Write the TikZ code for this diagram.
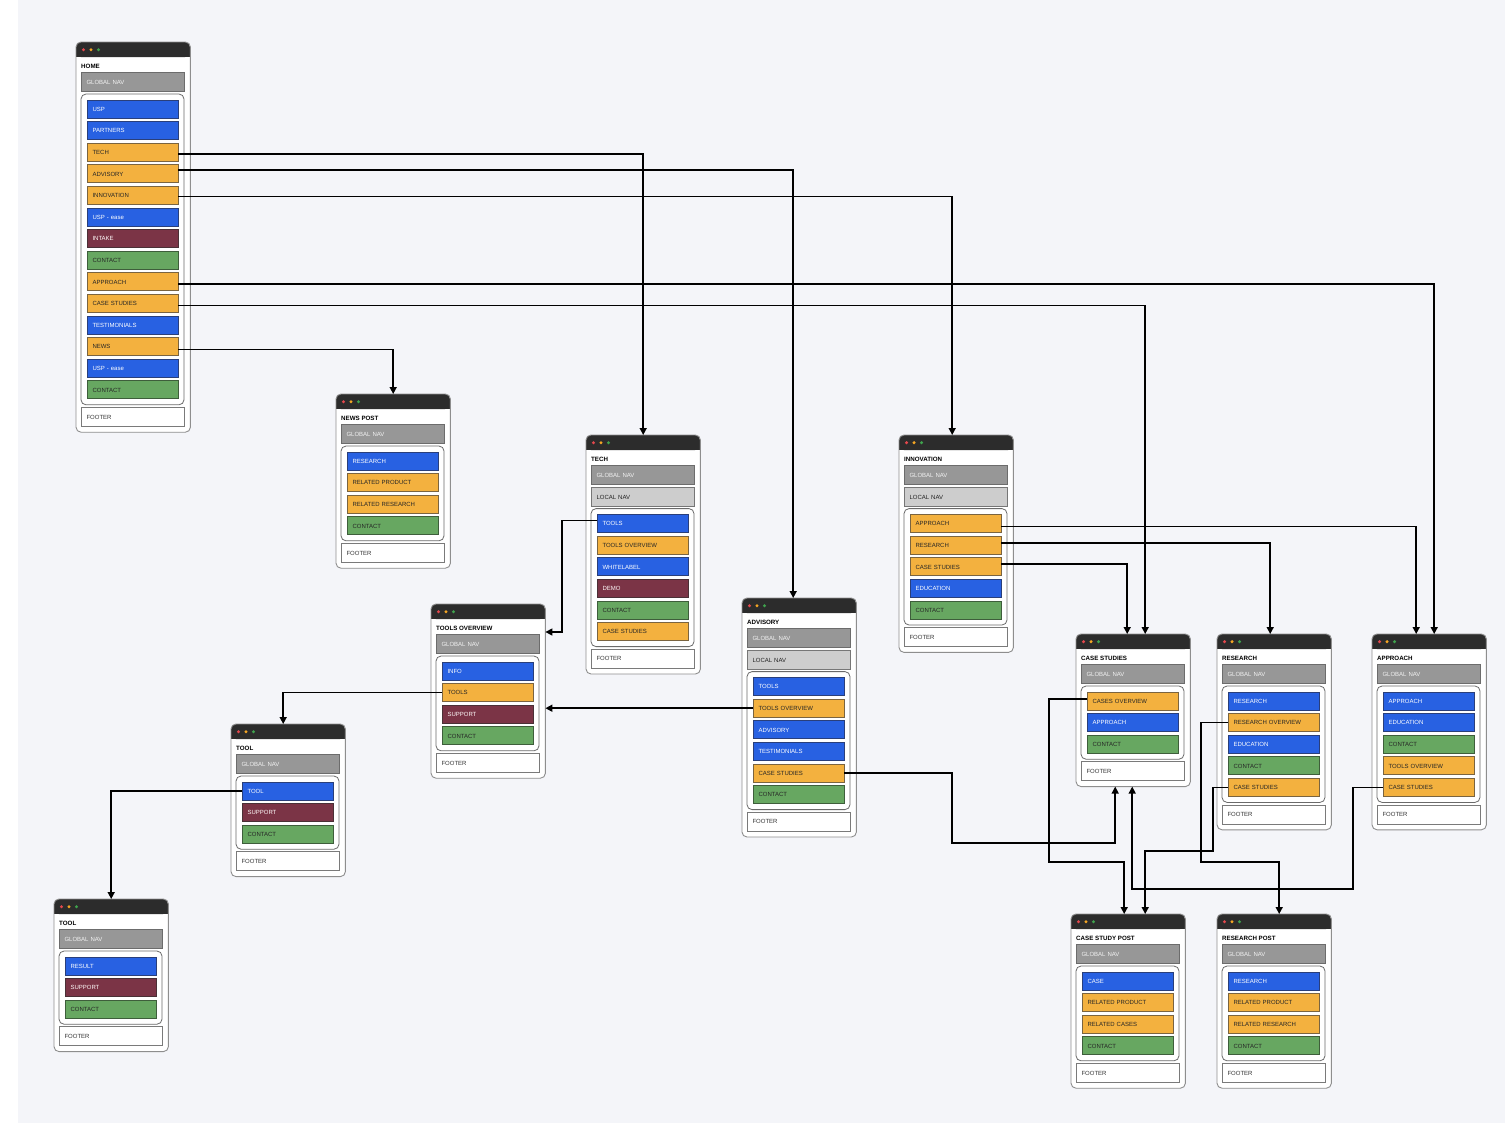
\documentclass[tikz,border=0pt]{standalone}
\usepackage{fontspec}
\setmainfont{Liberation Sans}
\usetikzlibrary{arrows.meta,calc}
\definecolor{bgc}{HTML}{F4F5F9}
\definecolor{hdrc}{HTML}{2C2C2C}
\definecolor{winb}{HTML}{8E8E8E}
\definecolor{contb}{HTML}{6A6A6A}
\definecolor{navc}{HTML}{979797}
\definecolor{navb}{HTML}{6C6C6C}
\definecolor{navt}{HTML}{F2F2F2}
\definecolor{lnavc}{HTML}{CDCDCD}
\definecolor{lnavb}{HTML}{767676}
\definecolor{lnavt}{HTML}{222222}
\definecolor{footb}{HTML}{7A7A7A}
\definecolor{foott}{HTML}{333333}
\definecolor{cblue}{HTML}{2861E2}
\definecolor{cblueb}{HTML}{2A3F7A}
\definecolor{corange}{HTML}{F3B13F}
\definecolor{corangeb}{HTML}{7A6440}
\definecolor{cmaroon}{HTML}{7B3446}
\definecolor{cmaroonb}{HTML}{4A3036}
\definecolor{cgreen}{HTML}{67A761}
\definecolor{cgreenb}{HTML}{3E5E3B}
\definecolor{dred}{HTML}{E5484D}
\definecolor{dyel}{HTML}{F5A623}
\definecolor{dgrn}{HTML}{3FA34D}
\tikzset{
  box/.style={draw, line width=0.7pt, inner xsep=5.5pt, inner ysep=0pt,
    text height=4.4pt, text depth=0pt, align=left,
    font=\fontsize{6}{7}\selectfont},
  gnav/.style={box, fill=navc, draw=navb, text=navt, text width=92pt, minimum height=19pt},
  lnav/.style={box, fill=lnavc, draw=lnavb, text=lnavt, text width=92pt, minimum height=19pt},
  foot/.style={box, fill=white, draw=footb, text=foott, text width=92pt, minimum height=19pt},
  item/.style={box, text width=80pt, minimum height=18pt},
  ib/.style={item, fill=cblue, draw=cblueb, text=white},
  io/.style={item, fill=corange, draw=corangeb, text=black!85},
  im/.style={item, fill=cmaroon, draw=cmaroonb, text=white!92!pink},
  ig/.style={item, fill=cgreen, draw=cgreenb, text=black!85},
  ttl/.style={font=\fontsize{6.2}{7}\selectfont\bfseries, anchor=west, inner sep=0pt},
  winnode/.style={fill=white, inner sep=0pt, anchor=north west, rounded corners=5pt},
  conn/.style={draw=black, line width=1.5pt, -{Triangle[length=7pt,width=7pt]}},
}
% #1 id, #2 x, #3 top y, #4 title, #5 local nav (0/1), #6 items
\newcommand\sitepage[6]{%
  \def\pid{#1}\def\px{#2}\def\py{#3}%
  \pgfmathsetmacro\loff{#5*21.6}%
  \foreach \s/\t [count=\i] in {#6} {\xdef\nitems{\i}}%
  \pgfmathsetmacro\lastc{\py+67+\loff+(\nitems-1)*21.6}%
  \pgfmathsetmacro\cb{\lastc+15}%
  \pgfmathsetmacro\fc{\cb+12}%
  \pgfmathsetmacro\wb{\fc+15}%
  \pgfmathsetmacro\wh{\wb-\py}%
  \node[winnode, minimum width=114pt, minimum height=\wh pt] (#1) at (\px,\py) {};
  \fill[hdrc, rounded corners=5pt] (\px,\py) rectangle (\px+114,\py+15);
  \fill[hdrc] (\px,\py+9) rectangle (\px+114,\py+15);
  \draw[winb, line width=0.9pt, rounded corners=5pt] (#1.north west) rectangle (#1.south east);
  \fill[dred] (\px+7.5,\py+7.7) circle (1.7pt);
  \fill[dyel] (\px+15,\py+7.7) circle (1.7pt);
  \fill[dgrn] (\px+22.5,\py+7.7) circle (1.7pt);
  \node[ttl] (#1-t) at (\px+5,\py+24) {#4};
  \node[gnav] (#1-g) at (\px+56.5,\py+40) {GLOBAL NAV};
  \ifnum#5=1 \node[lnav] (#1-l) at (\px+56.5,\py+62) {LOCAL NAV};\fi
  \draw[contb, line width=0.8pt, rounded corners=5pt] (\px+5,\py+52+\loff) rectangle (\px+108,\cb);
  \foreach \s/\t [count=\i] in {#6} {%
    \pgfmathsetmacro\iy{\py+67+\loff+(\i-1)*21.6}%
    \node[\s] (\pid-\i) at (\px+56.5,\iy) {\t};
  }%
  \node[foot] (#1-f) at (\px+56.5,\fc) {FOOTER};
}
\begin{document}
\begin{tikzpicture}[x=1pt,y=-1pt]
\useasboundingbox (0,0) rectangle (1505,1128);
\fill[white] (0,0) rectangle (1505,1128);
\fill[bgc] (18,0) rectangle (1505,1123);

\sitepage{home}{76}{42}{HOME}{0}{ib/USP, ib/PARTNERS, io/TECH, io/ADVISORY, io/INNOVATION, ib/USP - ease, im/INTAKE, ig/CONTACT, io/APPROACH, io/CASE STUDIES, ib/TESTIMONIALS, io/NEWS, ib/USP - ease, ig/CONTACT}
\sitepage{news}{336}{394}{NEWS POST}{0}{ib/RESEARCH, io/RELATED PRODUCT, io/RELATED RESEARCH, ig/CONTACT}
\sitepage{tech}{586}{435}{TECH}{1}{ib/TOOLS, io/TOOLS OVERVIEW, ib/WHITELABEL, im/DEMO, ig/CONTACT, io/CASE STUDIES}
\sitepage{innov}{899}{435}{INNOVATION}{1}{io/APPROACH, io/RESEARCH, io/CASE STUDIES, ib/EDUCATION, ig/CONTACT}
\sitepage{toolsov}{431}{604}{TOOLS OVERVIEW}{0}{ib/INFO, io/TOOLS, im/SUPPORT, ig/CONTACT}
\sitepage{adv}{742}{598}{ADVISORY}{1}{ib/TOOLS, io/TOOLS OVERVIEW, ib/ADVISORY, ib/TESTIMONIALS, io/CASE STUDIES, ig/CONTACT}
\sitepage{tool}{231}{724}{TOOL}{0}{ib/TOOL, im/SUPPORT, ig/CONTACT}
\sitepage{tooltwo}{54}{899}{TOOL}{0}{ib/RESULT, im/SUPPORT, ig/CONTACT}
\sitepage{cs}{1076}{634}{CASE STUDIES}{0}{io/CASES OVERVIEW, ib/APPROACH, ig/CONTACT}
\sitepage{res}{1217}{634}{RESEARCH}{0}{ib/RESEARCH, io/RESEARCH OVERVIEW, ib/EDUCATION, ig/CONTACT, io/CASE STUDIES}
\sitepage{app}{1372}{634}{APPROACH}{0}{ib/APPROACH, ib/EDUCATION, ig/CONTACT, io/TOOLS OVERVIEW, io/CASE STUDIES}
\sitepage{csp}{1071}{914}{CASE STUDY POST}{0}{ib/CASE, io/RELATED PRODUCT, io/RELATED CASES, ig/CONTACT}
\sitepage{rp}{1217}{914}{RESEARCH POST}{0}{ib/RESEARCH, io/RELATED PRODUCT, io/RELATED RESEARCH, ig/CONTACT}

% connectors from HOME
\draw[conn] ([yshift=-2pt]home-3.east) -| (tech.north);
\draw[conn] ([yshift=4pt]home-4.east) -| ([xshift=-6pt]adv.north);
\draw[conn] ([yshift=-1pt]home-5.east) -| ([xshift=-4pt]innov.north);
\draw[conn] ([yshift=-2pt]home-9.east) -| ([xshift=5pt]app.north);
\draw[conn] ([yshift=-2pt]home-10.east) -| ([xshift=12pt]cs.north);
\draw[conn] ([yshift=-3pt]home-12.east) -| (news.north);
% TECH / ADVISORY / TOOLS
\draw[conn] ([yshift=3pt]tech-1.west) -| (562,632) -- ([yshift=-28pt]toolsov.north east);
\draw[conn] (adv-2.west) -- (toolsov.east |- adv-2.west);
\draw[conn] (toolsov-2.west) -| ([xshift=-5pt]tool.north);
\draw[conn] (tool-1.west) -| (tooltwo.north);
% INNOVATION
\draw[conn] ([yshift=-3pt]innov-1.east) -| ([xshift=-13pt]app.north);
\draw[conn] ([yshift=2pt]innov-2.east) -| ([xshift=-4pt]res.north);
\draw[conn] ([yshift=3pt]innov-3.east) -| ([xshift=-6pt]cs.north);
% lower right
\draw[conn] (adv-5.east) -| (952,843) -| ([xshift=-18pt]cs.south);
\draw[conn] ([yshift=2pt]cs-1.west) -| (1049,862) -| ([xshift=-4pt]csp.north);
\draw[conn] (res-2.west) -| (1201,862) -| ([xshift=5pt]rp.north);
\draw[conn] (res-5.west) -| (1213,851) -| ([xshift=17pt]csp.north);
\draw[conn] (app-5.west) -| (1353,889) -| ([xshift=-1pt]cs.south);
\end{tikzpicture}
\end{document}
